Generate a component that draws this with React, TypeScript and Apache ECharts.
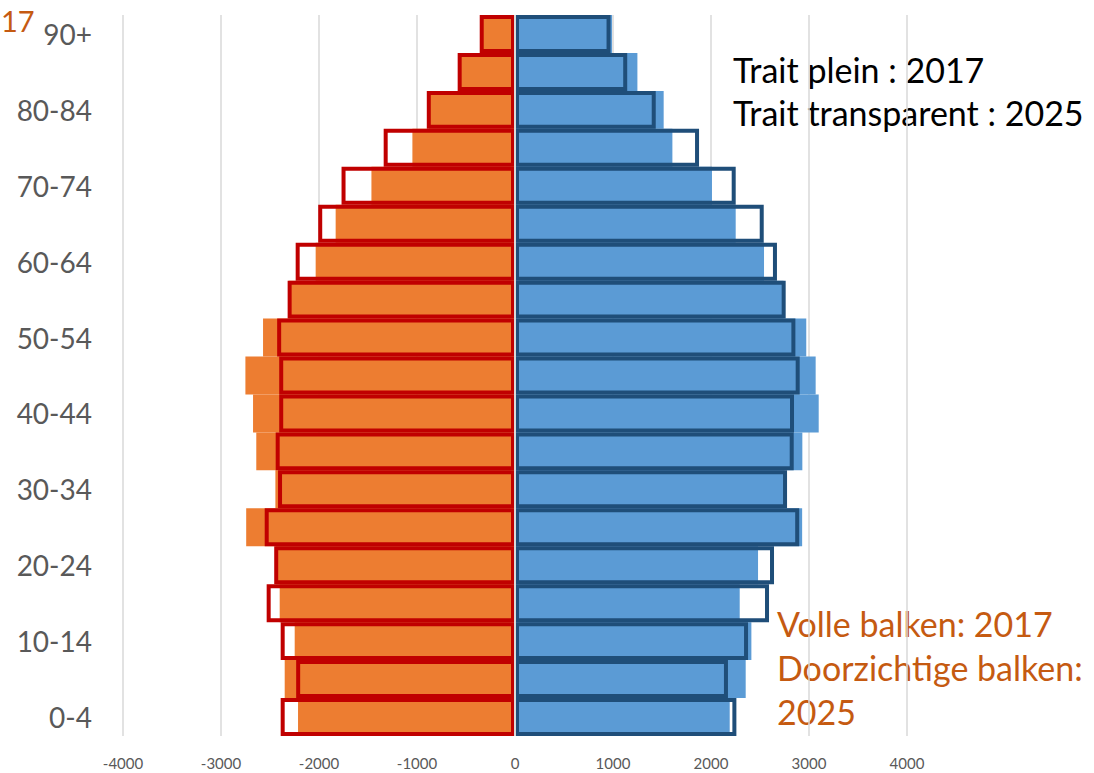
import React, { useEffect, useRef } from "react";
import * as echarts from "echarts";

const ageGroups = ["0-4", "5-9", "10-14", "15-19", "20-24", "25-29", "30-34", "35-39", "40-44", "45-49", "50-54", "55-59", "60-64", "65-69", "70-74", "75-79", "80-84", "85-89", "90+"];
const female2017 = [-2214, -2350, -2248, -2401, -2440, -2743, -2445, -2640, -2673, -2751, -2571, -2310, -2034, -1830, -1465, -1047, -877, -572, -340];
const female2025 = [-2391, -2233, -2391, -2534, -2457, -2554, -2418, -2442, -2406, -2406, -2427, -2320, -2238, -2008, -1770, -1340, -900, -585, -360];
const male2017 = [2191, 2354, 2412, 2293, 2480, 2930, 2752, 2932, 3099, 3068, 2972, 2740, 2541, 2252, 2010, 1606, 1517, 1249, 990];
const male2025 = [2259, 2173, 2378, 2592, 2643, 2900, 2776, 2844, 2847, 2905, 2861, 2762, 2673, 2538, 2252, 1878, 1436, 1145, 975];
const xTicks = { min: -4000, max: 4000, interval: 1000 };

const FONT = "Lato, 'Open Sans', sans-serif";

export default function App() {
  const ref = useRef<HTMLDivElement>(null);
  useEffect(() => {
    if (!ref.current) return;
    const chart = echarts.init(ref.current, null, { renderer: "svg" });
    const common = {
      type: "bar",
      barGap: "-100%",
      barCategoryGap: "0%",
      silent: true,
    };
    const textStyle = (fill: string, size = 34) => ({
      font: `${size}px ${FONT}`,
      fill,
      verticalAlign: "middle",
      textVerticalAlign: "middle",
    });
    chart.setOption({
      animation: false,
      backgroundColor: "#ffffff",
      grid: { left: 123, right: 187, top: 15, bottom: 37, containLabel: false },
      xAxis: {
        type: "value",
        min: xTicks.min,
        max: xTicks.max,
        interval: xTicks.interval,
        axisLine: { show: false },
        axisTick: { show: false },
        splitLine: { show: true, lineStyle: { color: "#D9D9D9", width: 1.5 } },
        axisLabel: {
          color: "#595959",
          fontSize: 15,
          fontFamily: "'Liberation Sans Narrow', Lato, sans-serif",
          margin: 19,
          formatter: (v: number) => String(v),
        },
      },
      yAxis: {
        type: "category",
        data: ageGroups,
        axisLine: { show: false },
        axisTick: { show: false },
        splitLine: { show: false },
        axisLabel: {
          interval: 1,
          color: "#595959",
          fontSize: 28,
          fontFamily: FONT,
          margin: 31,
        },
      },
      series: [
        { ...common, name: "F2017", data: female2017, itemStyle: { color: "#ED7D31" }, z: 2 },
        { ...common, name: "M2017", data: male2017, itemStyle: { color: "#5B9BD5" }, z: 2 },
        {
          ...common,
          name: "F2025",
          data: female2025,
          itemStyle: { color: "rgba(0,0,0,0)", borderColor: "#C00000", borderWidth: 4 },
          z: 3,
        },
        {
          ...common,
          name: "M2025",
          data: male2025,
          itemStyle: { color: "rgba(0,0,0,0)", borderColor: "#1F4E79", borderWidth: 4 },
          z: 3,
          markLine: {
            silent: true,
            symbol: "none",
            label: { show: false },
            lineStyle: { color: "#D9D9D9", width: 2, type: "solid" },
            data: [{ xAxis: 0 }],
            z: 5,
          },
        },
      ],
      graphic: [
        {
          type: "text",
          style: { text: "17", x: 1, y: 20, ...textStyle("#C55A11", 29), align: "left", textAlign: "left" },
        },
        { type: "text", style: { text: "Trait plein : 2017", x: 733, y: 69, ...textStyle("#000000") } },
        { type: "text", style: { text: "Trait transparent : 2025", x: 733, y: 112, ...textStyle("#000000") } },
        { type: "text", style: { text: "Volle balken: 2017", x: 777, y: 623, ...textStyle("#C55A11") } },
        { type: "text", style: { text: "Doorzichtige balken:", x: 777, y: 667, ...textStyle("#C55A11") } },
        { type: "text", style: { text: "2025", x: 777, y: 711, ...textStyle("#C55A11") } },
      ],
    });
    return () => chart.dispose();
  }, []);
  return <div ref={ref} style={{ position: "absolute", left: 0, top: 0, width: 1094, height: 773 }} />;
}
